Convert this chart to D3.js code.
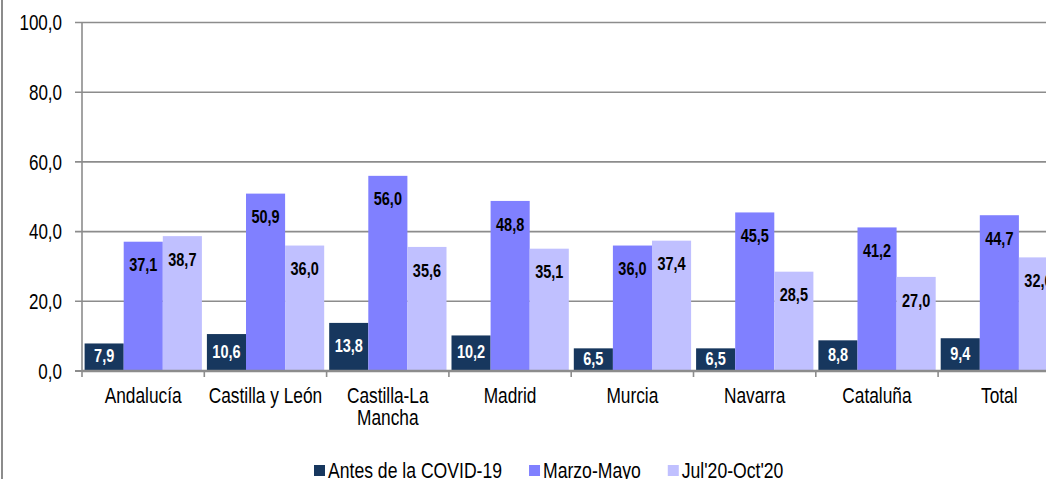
<!DOCTYPE html>
<html><head><meta charset="utf-8">
<script src="https://cdn.jsdelivr.net/npm/d3@7"></script>
<style>body{margin:0;background:#fff}svg{display:block}text{font-family:"Liberation Sans",Arial,sans-serif}</style>
</head><body><svg id="c" width="1046" height="479"></svg>
<script>
const categories = [["Andalucía"],["Castilla y León"],["Castilla-La","Mancha"],["Madrid"],["Murcia"],["Navarra"],["Cataluña"],["Total"]];
const seriesNames = ["Antes de la COVID-19","Marzo-Mayo","Jul'20-Oct'20"];
const antes = [7.9,10.6,13.8,10.2,6.5,6.5,8.8,9.4];
const marzoMayo = [37.1,50.9,56.0,48.8,36.0,45.5,41.2,44.7];
const julOct = [38.7,36.0,35.6,35.1,37.4,28.5,27.0,32.6];
const yTicks = [0,20,40,60,80,100];
const colors = ["#17375E","#8080FF","#C0C0FF"];
const labelColors = ["#fff","#000","#000"];

const series = [antes, marzoMayo, julOct];
const SY = 1.28;
const fmt = v => d3.format(".1f")(v).replace(".", ",");
const svg = d3.select("#c");

// outer border
svg.append("line").attr("x1",2).attr("x2",2).attr("y1",0).attr("y2",479).attr("stroke","#8c8c8c").attr("stroke-width",2);

const left = 82, catW = 122.3;
const keys = categories.map(c => c.join(" "));
const x0 = d3.scaleBand().domain(keys).range([left, left + catW*keys.length]).padding(0);
const y = d3.scaleLinear().domain([0,100]).range([371,22.5]);

// gridlines
svg.append("g").selectAll("line").data(yTicks.filter(t=>t>0)).join("line")
  .attr("x1",75).attr("x2",1060).attr("y1",d=>y(d)).attr("y2",d=>y(d))
  .attr("stroke","#8c8c8c").attr("stroke-width",1.6);
// y-axis tick at 0
svg.append("line").attr("x1",75).attr("x2",left).attr("y1",y(0)).attr("y2",y(0)).attr("stroke","#8c8c8c").attr("stroke-width",2);
// y axis line
svg.append("line").attr("x1",left).attr("x2",left).attr("y1",y(100)).attr("y2",377).attr("stroke","#8c8c8c").attr("stroke-width",1.6);

// y labels
svg.append("g").selectAll("text").data(yTicks).join("text")
  .attr("transform", d => `translate(62,${y(d)+0.358*17*SY}) scale(1,${SY})`)
  .attr("text-anchor","end").attr("font-size",17).attr("fill","#000")
  .text(d => fmt(d));

// bars
const bw = 39.1, off = 2.6;
series.forEach((vals, si) => {
  const g = svg.append("g");
  g.selectAll("rect").data(vals).join("rect")
    .attr("x",(d,i)=>x0(keys[i]) + off + si*bw)
    .attr("y",d=>y(d)).attr("width",bw).attr("height",d=>y(0)-y(d))
    .attr("fill",colors[si]);
});

// x axis line (over bars)
svg.append("line").attr("x1",left).attr("x2",1060).attr("y1",y(0)).attr("y2",y(0)).attr("stroke","#8c8c8c").attr("stroke-width",2.4);
// category ticks
svg.append("g").selectAll("line").data(d3.range(1, keys.length+1)).join("line")
  .attr("x1",i=>left+i*catW).attr("x2",i=>left+i*catW).attr("y1",y(0)).attr("y2",377)
  .attr("stroke","#8c8c8c").attr("stroke-width",1.6);

// bar labels
const lfs = 14.5;
series.forEach((vals, si) => {
  svg.append("g").selectAll("text").data(vals).join("text")
    .attr("transform",(d,i)=>{
      const top = y(d), mid = (y(d)+y(0))/2;
      const cy = Math.min(top+23, mid-1.5);
      const cx = x0(keys[i]) + off + si*bw + bw/2;
      return `translate(${cx},${cy+0.358*lfs*SY}) scale(1,${SY})`;
    })
    .attr("text-anchor","middle").attr("font-size",lfs).attr("font-weight","bold")
    .attr("fill",labelColors[si]).text(d=>fmt(d));
});

// category labels
const cfs = 17.3;
const cg = svg.append("g");
categories.forEach((lines,i)=>{
  lines.forEach((ln,j)=>{
    cg.append("text")
      .attr("transform",`translate(${x0(keys[i])+catW/2},${403+j*21.7}) scale(1,${SY})`)
      .attr("text-anchor","middle").attr("font-size",cfs).attr("fill","#000").text(ln);
  });
});

// legend
const lg = svg.append("g");
let lx = 314;
const lfs2 = 17.6;
seriesNames.forEach((name,i)=>{
  lg.append("rect").attr("x",lx).attr("y",465).attr("width",11).attr("height",11).attr("fill",colors[i]);
  const t = lg.append("text").attr("transform",`translate(${lx+14},478) scale(1,${SY})`)
    .attr("font-size",lfs2).attr("fill","#000").text(name);
  lx = lx + 14 + t.node().getComputedTextLength() + 27;
});
</script></body></html>
